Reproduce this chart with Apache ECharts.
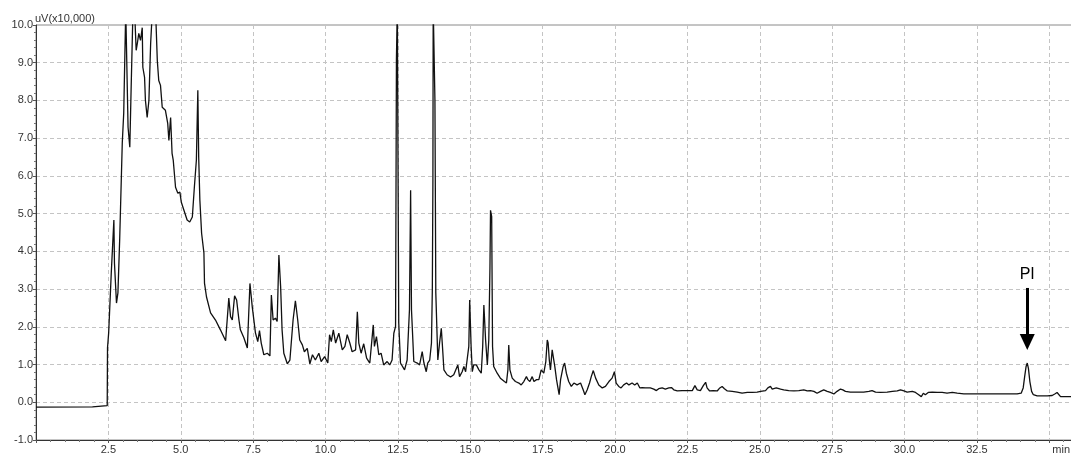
<!DOCTYPE html>
<html><head><meta charset="utf-8">
<script src="https://cdn.jsdelivr.net/npm/echarts@6/dist/echarts.min.js"></script>
<style>html,body{margin:0;padding:0;background:#fff}#c{width:1071px;height:454px}</style>
</head><body><div id="c"></div>
<script>
const yAxisTitle = 'uV(x10,000)';
const xAxisTitle = 'min';
// [retention time (min), signal (uV x10,000)]
const chromatogram = [
[0,-0.13],[1.95,-0.12],[2.0,-0.10],[2.46,-0.09],[2.47,1.44],[2.51,1.84],[2.55,1.84],[2.60,3.43],[2.69,4.83],[2.71,3.69],[2.78,2.63],[2.83,2.90],[2.89,4.30],[2.98,6.87],[3.03,7.66],[3.10,10.4],[3.18,7.29],[3.24,6.76],[3.29,8.45],[3.35,10.4],[3.41,10.3],[3.46,9.33],[3.50,9.51],[3.55,9.78],[3.61,9.59],[3.67,9.93],[3.69,8.88],[3.75,8.61],[3.78,8.0],[3.84,7.55],[3.90,8.0],[3.96,9.51],[4.02,10.4],[4.13,10.4],[4.19,9.06],[4.24,8.53],[4.30,8.40],[4.36,7.82],[4.47,7.74],[4.55,7.39],[4.59,6.94],[4.65,7.55],[4.70,6.60],[4.74,6.42],[4.82,5.70],[4.90,5.54],[4.97,5.57],[5.02,5.30],[5.11,5.09],[5.22,4.83],[5.31,4.78],[5.40,4.91],[5.47,5.70],[5.54,6.42],[5.59,8.27],[5.62,6.49],[5.66,5.36],[5.72,4.48],[5.80,3.96],[5.82,3.16],[5.89,2.79],[6.03,2.37],[6.20,2.18],[6.37,1.92],[6.55,1.63],[6.66,2.76],[6.72,2.27],[6.78,2.18],[6.86,2.82],[6.93,2.71],[7.01,2.18],[7.06,1.92],[7.18,1.71],[7.30,1.44],[7.39,3.15],[7.47,2.53],[7.58,1.84],[7.66,1.61],[7.72,1.90],[7.78,1.57],[7.87,1.26],[7.99,1.30],[8.08,1.23],[8.13,2.84],[8.19,2.18],[8.27,2.23],[8.33,2.14],[8.39,3.90],[8.45,3.06],[8.50,1.92],[8.56,1.30],[8.68,1.02],[8.77,1.12],[8.88,2.18],[8.96,2.69],[9.04,2.18],[9.11,1.65],[9.20,1.52],[9.27,1.34],[9.37,1.43],[9.46,1.02],[9.55,1.26],[9.65,1.12],[9.77,1.30],[9.85,1.08],[9.97,1.21],[10.08,1.04],[10.14,1.79],[10.20,1.61],[10.27,1.92],[10.35,1.57],[10.46,1.83],[10.58,1.39],[10.67,1.48],[10.75,1.79],[10.84,1.57],[10.92,1.34],[11.04,1.39],[11.10,2.40],[11.15,1.57],[11.23,1.30],[11.32,1.55],[11.42,1.17],[11.53,1.04],[11.65,2.05],[11.69,1.48],[11.76,1.74],[11.84,1.26],[11.92,1.30],[12.01,0.99],[12.13,1.08],[12.22,0.99],[12.30,1.12],[12.36,1.83],[12.42,2.01],[12.45,9.1],[12.48,10.5],[12.53,2.10],[12.59,1.04],[12.73,0.86],[12.82,1.12],[12.90,2.45],[12.94,5.62],[12.97,2.45],[13.05,1.08],[13.17,1.04],[13.25,0.99],[13.34,1.34],[13.40,1.04],[13.48,0.81],[13.53,1.04],[13.60,1.12],[13.66,1.57],[13.69,2.98],[13.71,5.89],[13.72,10.5],[13.75,10.5],[13.78,8.0],[13.81,2.90],[13.88,1.12],[13.94,1.57],[14.00,1.96],[14.04,1.48],[14.09,0.86],[14.20,0.73],[14.32,0.67],[14.43,0.73],[14.49,0.68],[14.57,0.99],[14.63,0.68],[14.72,0.81],[14.78,0.95],[14.84,0.81],[14.89,0.77],[14.95,1.48],[14.98,2.71],[15.03,1.48],[15.07,0.81],[15.12,0.99],[15.21,0.99],[15.30,0.86],[15.38,0.77],[15.43,1.48],[15.47,2.58],[15.53,1.65],[15.59,0.99],[15.64,1.65],[15.68,3.55],[15.70,5.09],[15.74,4.92],[15.77,1.48],[15.81,0.95],[15.93,0.77],[16.04,0.64],[16.18,0.55],[16.25,0.51],[16.30,0.86],[16.33,1.52],[16.37,0.86],[16.45,0.64],[16.56,0.55],[16.68,0.51],[16.76,0.46],[16.85,0.55],[16.94,0.68],[16.99,0.60],[17.06,0.55],[17.14,0.68],[17.20,0.55],[17.29,0.60],[17.37,0.60],[17.45,0.86],[17.54,0.77],[17.61,1.08],[17.66,1.65],[17.69,1.57],[17.73,1.12],[17.77,0.86],[17.83,1.39],[17.89,1.43],[17.92,0.95],[17.98,0.60],[18.02,0.42],[18.07,0.20],[18.12,0.60],[18.21,0.95],[18.26,1.04],[18.32,0.77],[18.40,0.55],[18.49,0.42],[18.58,0.51],[18.69,0.46],[18.81,0.51],[18.90,0.33],[18.96,0.20],[19.04,0.33],[19.12,0.51],[19.18,0.68],[19.25,0.84],[19.33,0.64],[19.44,0.46],[19.56,0.38],[19.67,0.42],[19.79,0.55],[19.90,0.64],[19.98,0.81],[20.04,0.51],[20.13,0.42],[20.21,0.38],[20.30,0.46],[20.40,0.51],[20.48,0.46],[20.59,0.51],[20.68,0.46],[20.77,0.51],[20.86,0.38],[20.94,0.39],[21.05,0.38],[21.22,0.38],[21.34,0.35],[21.43,0.31],[21.51,0.36],[21.63,0.38],[21.74,0.35],[21.86,0.38],[21.95,0.39],[22.03,0.33],[22.15,0.30],[22.32,0.31],[22.49,0.31],[22.67,0.31],[22.76,0.44],[22.84,0.33],[22.95,0.31],[23.05,0.44],[23.13,0.53],[23.18,0.38],[23.27,0.30],[23.39,0.31],[23.53,0.30],[23.62,0.38],[23.70,0.42],[23.78,0.36],[23.88,0.30],[24.05,0.29],[24.22,0.27],[24.39,0.24],[24.57,0.26],[24.74,0.26],[24.91,0.27],[25.03,0.29],[25.20,0.31],[25.28,0.38],[25.37,0.42],[25.43,0.35],[25.49,0.33],[25.57,0.38],[25.62,0.42],[25.72,0.35],[25.83,0.33],[26.00,0.31],[26.18,0.30],[26.35,0.31],[26.52,0.33],[26.64,0.30],[26.75,0.31],[26.87,0.29],[26.98,0.24],[27.10,0.29],[27.21,0.33],[27.33,0.29],[27.44,0.26],[27.56,0.22],[27.67,0.29],[27.79,0.35],[27.87,0.33],[27.96,0.29],[28.13,0.27],[28.37,0.27],[28.59,0.27],[28.77,0.29],[28.88,0.31],[29.00,0.27],[29.17,0.26],[29.40,0.27],[29.58,0.29],[29.75,0.30],[29.86,0.33],[29.98,0.30],[30.09,0.27],[30.27,0.29],[30.38,0.26],[30.49,0.20],[30.58,0.15],[30.65,0.24],[30.72,0.20],[30.82,0.26],[30.96,0.27],[31.13,0.26],[31.30,0.26],[31.47,0.24],[31.65,0.26],[31.82,0.24],[32.05,0.22],[32.51,0.22],[32.97,0.22],[33.55,0.22],[33.89,0.22],[34.03,0.24],[34.10,0.38],[34.15,0.68],[34.20,0.95],[34.24,1.04],[34.28,0.90],[34.33,0.55],[34.39,0.29],[34.45,0.20],[34.58,0.17],[34.93,0.17],[35.10,0.18],[35.19,0.22],[35.27,0.26],[35.33,0.22],[35.39,0.15],[35.76,0.15]
];
// annotation arrow for the internal standard peak
const peakLabel = 'PI';
const peakTime = 34.24;
const arrowFrom = 3.03;
const arrowTo = 1.6;

const FONT = "'Liberation Sans', Arial, sans-serif";
const chart = echarts.init(document.getElementById('c'), null, {renderer: 'canvas'});
chart.setOption({
  animation: false,
  backgroundColor: '#ffffff',
  title: {text: yAxisTitle, left: 35, top: 13, padding: 0, itemGap: 0,
          textStyle: {fontSize: 11, fontWeight: 'normal', color: '#333', fontFamily: FONT, lineHeight: 11}},
  grid: {left: 36, right: -2, top: 25, bottom: 14, show: true, borderColor: '#8a8a8a', borderWidth: 1,
         backgroundColor: 'transparent', containLabel: false, outerBoundsMode: 'none'},
  xAxis: {
    type: 'value', min: 0, max: 35.82, interval: 2.5,
    name: xAxisTitle, nameLocation: 'end', nameGap: -3,
    nameTextStyle: {align: 'right', verticalAlign: 'top', padding: [4, 0, 0, 0], fontSize: 11, color: '#333', fontFamily: FONT},
    axisLine: {show: true, onZero: false, lineStyle: {color: '#333', width: 1}},
    axisTick: {show: true, length: 3, lineStyle: {color: '#555'}},
    minorTick: {show: true, splitNumber: 5, length: 2, lineStyle: {color: '#777'}},
    axisLabel: {fontSize: 11, color: '#333', fontFamily: FONT, margin: 4,
      formatter: v => (v <= 0 || v >= 35) ? '' : v.toFixed(1)},
    splitLine: {show: true, lineStyle: {color: '#c4c4c4', type: [4, 3], width: 1}}
  },
  yAxis: {
    type: 'value', min: -1, max: 10, interval: 1,
    axisLine: {show: true, onZero: false, lineStyle: {color: '#333', width: 1}},
    axisTick: {show: true, length: 3, lineStyle: {color: '#555'}},
    minorTick: {show: true, splitNumber: 5, length: 2, lineStyle: {color: '#777'}},
    axisLabel: {fontSize: 11, color: '#333', fontFamily: FONT, margin: 3, formatter: v => v.toFixed(1)},
    splitLine: {show: true, lineStyle: {color: '#c4c4c4', type: [4, 3], width: 1}}
  },
  series: [{
    type: 'line', data: chromatogram, showSymbol: false, symbol: 'none', clip: true,
    lineStyle: {color: '#111', width: 1.3}, silent: true,
    markLine: {
      silent: true, symbol: ['none', 'triangle'], symbolSize: [15, 16],
      lineStyle: {color: '#000', width: 3, type: 'solid'},
      label: {show: true, position: 'start', formatter: peakLabel, fontSize: 16, color: '#000', fontFamily: FONT, distance: 5},
      emphasis: {disabled: true},
      data: [[{coord: [peakTime, arrowFrom]}, {coord: [peakTime, arrowTo]}]]
    }
  }]
});
</script></body></html>
